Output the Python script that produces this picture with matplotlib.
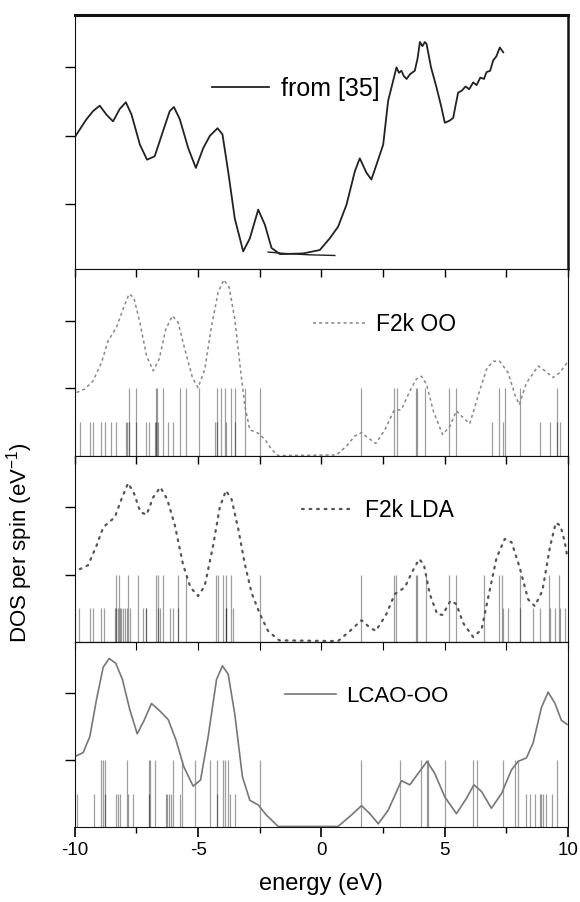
import matplotlib
matplotlib.use('Agg')
import matplotlib.pyplot as plt
import numpy as np

plt.rcParams['font.family'] = ['Liberation Sans', 'DejaVu Sans']
plt.rcParams['mathtext.default'] = 'regular'

# --- experimental curve (top panel) ---
exp_x = [-10, -9.93, -9.53, -9.26, -8.99, -8.72, -8.45, -8.18, -7.93, -7.70, -7.36, -7.07, -6.76,
         -6.42, -6.15, -5.98, -5.74, -5.40, -5.09, -4.79, -4.52, -4.21, -4.01, -3.78, -3.51,
         -3.17, -2.90, -2.56, -2.29, -2.02, -1.68, -0.74, -0.06, 0.34, 0.68, 1.02, 1.36, 1.56,
         1.83, 2.03, 2.24, 2.51, 2.71, 3.05, 3.15, 3.25, 3.35, 3.46, 3.6, 3.79, 3.9, 4.0, 4.1,
         4.2, 4.27, 4.45, 4.67, 4.85, 5.01, 5.2, 5.35, 5.45, 5.55, 5.7, 5.85, 6.0, 6.16, 6.3,
         6.45, 6.6, 6.7, 6.85, 6.97, 7.1, 7.24, 7.38]
exp_y = [1.98, 2.02, 2.24, 2.36, 2.44, 2.31, 2.21, 2.39, 2.49, 2.31, 1.87, 1.65, 1.70,
         2.07, 2.36, 2.42, 2.24, 1.82, 1.53, 1.82, 2.0, 2.11, 2.02, 1.48, 0.79,
         0.31, 0.50, 0.92, 0.70, 0.36, 0.27, 0.28, 0.33, 0.50, 0.67, 0.99, 1.48, 1.67,
         1.46, 1.36, 1.58, 1.87, 2.51, 3.0, 2.92, 2.95, 2.87, 2.83, 2.90, 2.95, 3.12, 3.37, 3.31,
         3.37, 3.34, 3.00, 2.71, 2.45, 2.19, 2.22, 2.26, 2.45, 2.63, 2.66, 2.72, 2.68, 2.78, 2.74,
         2.85, 2.83, 2.93, 2.95, 3.10, 3.16, 3.29, 3.22]
base_x = [-2.16, -1.5, -0.5, 0.55]
base_y = [0.30, 0.28, 0.26, 0.25]

# --- F2k OO ---
oo_x = [-9.93, -9.60, -9.26, -8.92, -8.65, -8.31, -8.04, -7.80, -7.61, -7.36, -7.09, -6.82,
        -6.58, -6.31, -6.04, -5.81, -5.54, -5.23, -5.0, -4.73, -4.46, -4.19, -3.96, -3.74,
        -3.51, -3.28, -3.10, -2.90, -2.56, -2.29, -2.02, -1.75, 0.61, 1.02, 1.36, 1.63, 1.90,
        2.21, 2.58, 2.94, 3.25, 3.59, 3.86, 4.06, 4.27, 4.54, 4.92, 5.21, 5.48, 5.75, 6.02,
        6.36, 6.70, 6.97, 7.24, 7.58, 7.85, 8.03, 8.32, 8.80, 9.07, 9.40, 9.67, 9.97]
oo_y = [0.94, 0.99, 1.11, 1.38, 1.70, 1.90, 2.17, 2.39, 2.34, 1.97, 1.48, 1.26,
        1.43, 1.87, 2.07, 1.97, 1.58, 1.16, 1.01, 1.28, 1.90, 2.41, 2.60, 2.49,
        2.02, 1.28, 0.74, 0.39, 0.34, 0.25, 0.10, 0.01, 0.02, 0.15, 0.30, 0.35, 0.27,
        0.19, 0.39, 0.67, 0.69, 0.96, 1.14, 1.18, 1.06, 0.67, 0.32, 0.44, 0.67, 0.57, 0.48,
        0.89, 1.28, 1.40, 1.40, 1.23, 0.91, 0.76, 1.08, 1.33, 1.26, 1.16, 1.23, 1.38]
oo_tall = [-7.81, -7.53, -6.71, -6.66, -6.44, -5.74, -5.47, -4.97, -4.25, -4.09, -3.89, -3.68,
           -3.51, -3.10, -2.49, 1.63, 2.95, 3.09, 3.83, 3.90, 4.20, 5.19, 5.46, 7.21, 7.44,
           8.05, 9.57]
oo_short = [-9.80, -9.39, -9.26, -8.92, -8.78, -8.54, -8.34, -7.93, -7.88, -7.81, -7.50, -7.12,
            -6.98, -6.75, -6.71, -6.62, -6.21, -6.01, -4.32, -4.25, -3.85, -3.51, 6.94, 7.38,
            8.86, 9.27, 9.57, 9.68]

# --- F2k LDA ---
lda_x = [-9.80, -9.46, -9.12, -8.85, -8.65, -8.38, -8.11, -7.84, -7.61, -7.34, -7.09, -6.82,
         -6.53, -6.25, -5.94, -5.61, -5.31, -5.0, -4.73, -4.39, -4.12, -3.87, -3.64, -3.37,
         -3.10, -2.83, -2.49, -2.16, -1.71, 0.68, 1.16, 1.63, 1.94, 2.21, 2.64, 2.98, 3.39,
         3.70, 3.97, 4.16, 4.40, 4.70, 4.92, 5.24, 5.48, 5.75, 6.16, 6.50, 6.77, 7.11, 7.44,
         7.72, 8.05, 8.39, 8.66, 8.97, 9.27, 9.51, 9.70, 9.88, 9.97]
lda_y = [1.08, 1.14, 1.43, 1.70, 1.77, 1.85, 2.12, 2.36, 2.22, 1.93, 1.89, 2.15,
         2.30, 2.12, 1.73, 1.15, 0.81, 0.68, 0.83, 1.43, 2.0, 2.25, 2.12, 1.68,
         1.15, 0.73, 0.41, 0.16, 0.02, 0.01, 0.16, 0.32, 0.22, 0.16, 0.41, 0.71, 0.81,
         1.05, 1.23, 1.15, 0.71, 0.41, 0.40, 0.61, 0.56, 0.28, 0.07, 0.18, 0.66, 1.25, 1.53,
         1.48, 1.10, 0.63, 0.53, 0.76, 1.40, 1.77, 1.73, 1.48, 1.28]
lda_tall = [-8.31, -8.20, -7.84, -7.43, -6.69, -6.61, -6.44, -5.81, -5.47, -4.29, -4.21, -3.98,
            -3.85, -3.67, -2.49, 1.63, 2.95, 3.02, 3.83, 3.90, 4.23, 5.19, 5.46, 6.61, 7.21,
            7.34, 8.05, 9.23, 9.65]
lda_short = [-9.82, -9.39, -9.26, -8.92, -8.81, -8.38, -8.31, -8.24, -8.17, -8.11, -8.04, -7.97,
             -7.90, -7.77, -7.23, -7.12, -7.12, -6.61, -6.55, -6.15, -6.01, -5.81, -3.87, -3.87,
             -3.58, 7.38, 7.58, 8.05, 8.59, 8.86, 9.27, 9.47, 9.68, 9.88]

# --- LCAO-OO ---
lcao_x = [-10, -9.66, -9.39, -9.12, -8.85, -8.61, -8.34, -8.07, -7.77, -7.47, -7.20, -6.89,
          -6.55, -6.21, -5.90, -5.58, -5.20, -4.90, -4.59, -4.25, -4.01, -3.78, -3.51, -3.20,
          -2.90, -2.56, -2.23, -1.75, 0.68, 1.22, 1.63, 1.97, 2.31, 2.71, 3.25, 3.59, 3.99,
          4.29, 4.60, 5.01, 5.48, 5.89, 6.19, 6.50, 6.90, 7.31, 7.71, 7.99, 8.32, 8.59, 8.93,
          9.20, 9.47, 9.74, 9.97]
lcao_y = [1.05, 1.11, 1.35, 1.90, 2.38, 2.51, 2.44, 2.20, 1.75, 1.39, 1.58, 1.84,
          1.73, 1.60, 1.30, 0.90, 0.61, 0.70, 1.35, 2.20, 2.40, 2.28, 1.68, 0.75,
          0.40, 0.33, 0.18, 0.01, 0.01, 0.18, 0.32, 0.20, 0.05, 0.25, 0.69, 0.63, 0.83,
          0.98, 0.80, 0.45, 0.20, 0.43, 0.63, 0.53, 0.28, 0.50, 0.85, 0.98, 1.03, 1.25, 1.78,
          2.01, 1.85, 1.59, 1.53]
lcao_tall = [-8.92, -8.85, -8.78, -7.90, -6.98, -6.93, -6.75, -6.01, -5.67, -5.13, -4.52, -4.25,
             -3.98, -3.91, -3.78, -2.49, 1.63, 3.21, 4.06, 4.27, 4.33, 5.01, 6.16, 6.32, 7.38,
             7.85, 7.99, 9.57]
lcao_short = [-9.91, -9.22, -8.76, -8.31, -8.24, -8.15, -7.84, -7.66, -6.98, -6.31, -6.25, -6.17,
              -6.08, -5.74, -4.25, -3.71, -3.51, 8.32, 8.46, 8.66, 8.86, 8.93, 9.00, 9.13,
              9.34, 9.99]

fig = plt.figure(figsize=(5.8, 9.02), dpi=100)
gs = fig.add_gridspec(4, 1, height_ratios=[253, 187, 185, 185], hspace=0,
                      left=0.129, right=0.979, bottom=0.083, top=0.983)
axes = [fig.add_subplot(gs[i]) for i in range(4)]

ax0 = axes[0]
ax0.plot(exp_x, exp_y, color='#222222', lw=1.3, label='from [35]')
ax0.plot(base_x, base_y, color='#222222', lw=1.0)
ax0.set_ylim(0.054, 3.76)
ax0.set_yticks([1, 2, 3])
ax0.set_xticks([])
ax0.spines['top'].set_linewidth(2.2)
ax0.spines['right'].set_linewidth(1.8)

curves = [
    (axes[1], oo_x, oo_y, oo_tall, oo_short, 'F2k OO', dict(color='#888888', lw=1.1, ls=(0, (2, 2)))),
    (axes[2], lda_x, lda_y, lda_tall, lda_short, 'F2k LDA', dict(color='#555555', lw=1.6, ls=(0, (0.8, 2.6)), dash_capstyle='round')),
    (axes[3], lcao_x, lcao_y, lcao_tall, lcao_short, 'LCAO-OO', dict(color='#777777', lw=1.2)),
]
for ax, cx, cy, tall, short, name, style in curves:
    ax.vlines(tall, 0, 1.0, color='black', alpha=0.38, lw=0.9)
    ax.vlines(short, 0, 0.5, color='black', alpha=0.38, lw=0.9)
    ax.plot(cx, cy, label=name, **style)
    ax.set_ylim(0, 2.76)
    ax.set_yticks([1, 2])

for ax in axes:
    ax.set_xlim(-10, 10)
    ax.tick_params(axis='y', direction='out', length=7, width=1, labelleft=False)
    for s in ax.spines.values():
        s.set_color('#111111')

for ax in axes[1:3]:
    ax.set_xticks(np.arange(-10, 10.1, 2.5))
    ax.tick_params(axis='x', direction='in', top=True, bottom=False, labeltop=False,
                   labelbottom=False, length=6, width=1)

ax3 = axes[3]
ax3.set_xticks([-10, -5, 0, 5, 10])
ax3.set_xticks([-7.5, -2.5, 2.5, 7.5], minor=True)
ax3.tick_params(axis='x', which='major', direction='out', length=7, width=1.2, labelsize=13.5, pad=4)
ax3.tick_params(axis='x', which='minor', direction='out', length=4, width=1)
ax3.set_xticklabels(['-10', '-5', '0', '5', '10'])
ax3.set_xlabel('energy (eV)', fontsize=17, labelpad=10)
sec = ax3.secondary_xaxis('top')
sec.set_xticks(np.arange(-10, 10.1, 2.5))
sec.tick_params(direction='in', length=6, labeltop=False)

# legends
legend_spots = [(0.278, 0.71, 18), (0.483, 0.705, 16.5), (0.460, 0.706, 16.5), (0.426, 0.704, 16)]
for ax, (lx, ly, fs) in zip(axes, legend_spots):
    ax.legend(loc='center left', bbox_to_anchor=(lx, ly), frameon=False, fontsize=fs,
              handlelength=2.3, handletextpad=0.45, borderpad=0, borderaxespad=0)

fig.text(0.033, 0.398, 'DOS per spin (eV$^{-1}$)', rotation=90, ha='center', va='center', fontsize=16)

plt.savefig('out.png', dpi=100)
